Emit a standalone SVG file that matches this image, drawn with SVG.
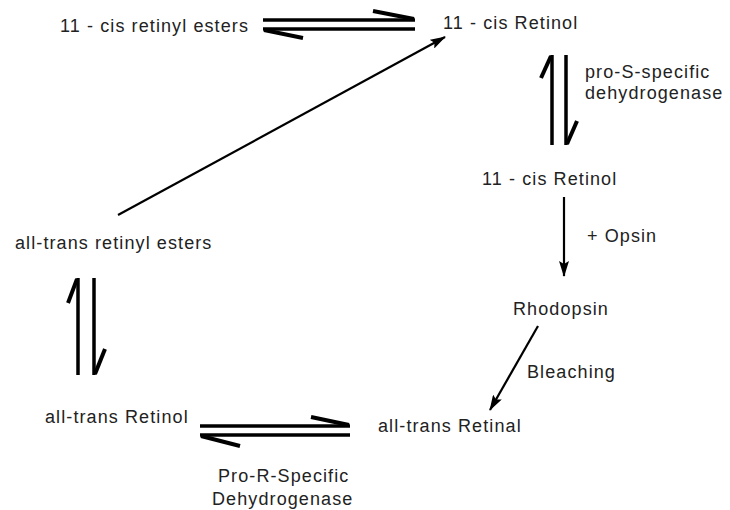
<svg xmlns="http://www.w3.org/2000/svg" width="730" height="510" viewBox="0 0 730 510">
<style>
text{font-family:"Liberation Sans",Arial,sans-serif;font-size:18px;letter-spacing:1.1px;fill:#222}
.eq{stroke:#000;stroke-width:3.5;fill:none}
.barb{stroke:#000;stroke-width:4;fill:none;stroke-linecap:butt}
.arr{stroke:#000;stroke-width:2.2;fill:none;marker-end:url(#ah)}
</style>
<defs>
<marker id="ah" viewBox="0 0 16 10" refX="15" refY="5" markerWidth="16" markerHeight="10" markerUnits="userSpaceOnUse" orient="auto">
<path d="M0,0 L16,5 L0,10 L3,5 Z" fill="#000"/>
</marker>
</defs>
<rect width="730" height="510" fill="#fff"/>
<g id="connectors">
<line class="eq" x1="263" y1="20" x2="415" y2="20"/>
<line class="barb" x1="373" y1="11" x2="414" y2="19"/>
<line class="eq" x1="263" y1="29" x2="415" y2="29"/>
<line class="barb" x1="264" y1="30" x2="303" y2="38"/>
<line class="arr" x1="118" y1="215" x2="445" y2="37"/>
<line class="eq" x1="552" y1="55" x2="552" y2="145"/>
<line class="barb" x1="541" y1="78" x2="551" y2="56"/>
<line class="eq" x1="566" y1="55" x2="566" y2="145"/>
<line class="barb" x1="577" y1="121" x2="567" y2="144"/>
<line class="arr" x1="564" y1="197" x2="564" y2="276"/>
<line class="arr" x1="538" y1="326" x2="490" y2="410"/>
<line class="eq" x1="78" y1="278" x2="78" y2="375"/>
<line class="barb" x1="68" y1="303" x2="77" y2="279"/>
<line class="eq" x1="94" y1="278" x2="94" y2="375"/>
<line class="barb" x1="105" y1="349" x2="95" y2="374"/>
<line class="eq" x1="200" y1="426" x2="350" y2="426"/>
<line class="barb" x1="311" y1="417" x2="349" y2="425"/>
<line class="eq" x1="200" y1="435" x2="350" y2="435"/>
<line class="barb" x1="201" y1="436" x2="240" y2="446"/>
</g>
<g id="n-cis-esters"><text x="60" y="32">11 - cis retinyl esters</text></g>
<g id="n-cis-retinol-1"><text x="443" y="29">11 - cis Retinol</text></g>
<g id="l-pro-s"><text x="585" y="78">pro-S-specific</text><text x="585" y="99">dehydrogenase</text></g>
<g id="n-cis-retinol-2"><text x="482" y="185">11 - cis Retinol</text></g>
<g id="l-opsin"><text x="587" y="242">+ Opsin</text></g>
<g id="n-rhodopsin"><text x="513" y="315">Rhodopsin</text></g>
<g id="l-bleaching"><text x="527" y="378">Bleaching</text></g>
<g id="n-retinal"><text x="378" y="432">all-trans Retinal</text></g>
<g id="n-trans-esters"><text x="15" y="249">all-trans retinyl esters</text></g>
<g id="n-trans-retinol"><text x="45" y="423">all-trans Retinol</text></g>
<g id="l-pro-r"><text x="218" y="482">Pro-R-Specific</text><text x="212" y="505">Dehydrogenase</text></g>
</svg>
